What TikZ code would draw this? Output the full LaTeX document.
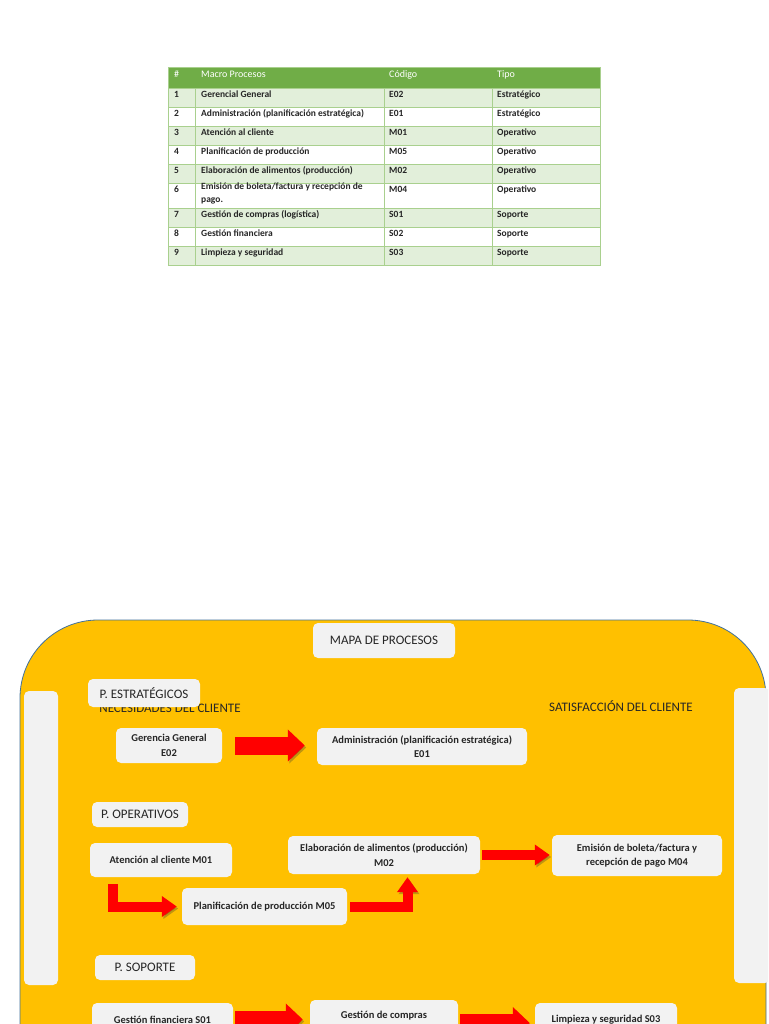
\documentclass[tikz,border=0pt]{standalone}
\usepackage{fontspec}
\setmainfont{Carlito}
\usetikzlibrary{positioning, arrows.meta}

\definecolor{hdrgreen}{HTML}{70AD47}
\definecolor{rowgreen}{HTML}{E2EFDA}
\definecolor{gridgreen}{HTML}{A9D08E}
\definecolor{mapyellow}{HTML}{FFC000}
\definecolor{mapedge}{HTML}{41719C}
\definecolor{boxgray}{HTML}{F2F2F2}
\definecolor{arrowred}{HTML}{FF0000}

\tikzset{
  cell/.style={anchor=north west, inner sep=0pt, align=left,
    execute at begin node=\strut,
    font=\fontsize{9.5}{13}\selectfont\bfseries, text=black!85},
  hcell/.style={cell, font=\fontsize{10}{12}\selectfont, text=white},
  proc/.style={fill=boxgray, rounded corners=5pt, inner sep=0pt, align=center,
    font=\fontsize{10.5}{14.5}\selectfont\bfseries, text=black!85},
  group/.style={proc, font=\fontsize{13}{15}\selectfont},
  sidebar/.style={fill=boxgray, rounded corners=5pt, inner sep=0pt},
  bigarrow/.style={draw=arrowred, line width=18pt, line join=miter,
    -{Triangle[length=17pt,width=31pt]},
    preaction={draw=black!80, opacity=.3, transform canvas={shift={(1.5pt,-2pt)}}}},
  thinarrow/.style={bigarrow, line width=10pt, -{Triangle[length=15pt,width=20pt]}},
}

\begin{document}
\begin{tikzpicture}[x=1pt,y=-1pt]
  \useasboundingbox (0,0) rectangle (768,1024);
  \clip (0,0) rectangle (768,1024);

  % table of macro processes
  \fill[hdrgreen] (168,67) rectangle (600,88);
  \foreach \top/\bot/\rowc in {88/107/rowgreen,107/126/white,126/145/rowgreen,
      145/164/white,164/183/rowgreen,183/208/white,208/227/rowgreen,
      227/246/white,246/265/rowgreen}
    \fill[\rowc] (168,\top) rectangle (600,\bot);
  \foreach \yy in {88,107,126,145,164,183,208,227,246}
    \draw[gridgreen,line width=0.6pt] (168,\yy) -- (600,\yy);
  \foreach \xx in {195,384,492}
    \draw[gridgreen,line width=0.6pt] (\xx,88) -- (\xx,265);
  \draw[gridgreen,line width=0.6pt] (168,67) rectangle (600,265);

  \node[hcell] (h-num) at (174,69) {\#};
  \node[hcell] (h-proc) at (201,69) {Macro Procesos};
  \node[hcell] (h-cod) at (389,69) {Código};
  \node[hcell] (h-tipo) at (497,69) {Tipo};
  \foreach \n/\top/\proc/\cod/\tip in {
      1/88/Gerencial General/E02/Estratégico,
      2/107/Administración (planificación estratégica)/E01/Estratégico,
      3/126/Atención al cliente/M01/Operativo,
      4/145/Planificación de producción/M05/Operativo,
      5/164/Elaboración de alimentos (producción)/M02/Operativo,
      6/183/{Emisión de boleta/factura y recepción de\\pago.}/M04/Operativo,
      7/208/Gestión de compras (logística)/S01/Soporte,
      8/227/Gestión financiera/S02/Soporte,
      9/246/Limpieza y seguridad/S03/Soporte}{
    \node[cell] (num-\n) at (174,\top) {\n};
    \node[cell] (proc-\n) at (201,\top) {\proc};
    \node[cell] (cod-\n) at (389,\top) {\cod};
    \node[cell] (tipo-\n) at (497,\top) {\tip};
  }

  % process map
  \draw[mapedge, fill=mapyellow, line width=0.8pt, rounded corners=78pt]
    (20,620) rectangle (766,1110);
  \node[sidebar, minimum width=34pt, minimum height=294pt] (inbar) at (41,838) {};
  \node[sidebar, minimum width=36pt, minimum height=295pt] (outbar) at (752,835.5) {};
  \node[group, minimum width=142pt, minimum height=35pt] (mapa) at (384,640.5)
    {MAPA DE PROCESOS};

  \node[font=\fontsize{13}{15}\selectfont, text=black!85] (nec) at (170,708)
    {NECESIDADES DEL CLIENTE};
  \node[font=\fontsize{13}{15}\selectfont, text=black!85] (sat) at (621,706)
    {SATISFACCIÓN DEL CLIENTE};

  \node[group, minimum width=112pt, minimum height=28pt] (pest) at (144,693)
    {P. ESTRATÉGICOS};
  \node[proc, minimum width=106pt, minimum height=35pt] (ger) at (169,745.5)
    {Gerencia General\\E02};
  \node[proc, minimum width=210pt, minimum height=37pt] (adm) at (422,746.5)
    {Administración (planificación estratégica)\\E01};

  \node[group, minimum width=96pt, minimum height=25pt] (pop) at (140,814.5)
    {P. OPERATIVOS};
  \node[proc, minimum width=142pt, minimum height=34pt] (atn) at (161,860)
    {Atención al cliente M01};
  \node[proc, minimum width=192pt, minimum height=38pt] (elab) at (384,855)
    {Elaboración de alimentos (producción)\\M02};
  \node[proc, minimum width=170pt, minimum height=41pt] (emis) at (637,855.5)
    {Emisión de boleta/factura y\\recepción de pago M04};
  \node[proc, minimum width=165pt, minimum height=37pt] (plan) at (264.5,906.5)
    {Planificación de producción M05};

  \node[group, minimum width=100pt, minimum height=25pt] (psop) at (145,967.5)
    {P. SOPORTE};
  \node[proc, minimum width=141pt, minimum height=33pt] (fin) at (162.5,1019.5)
    {Gestión financiera S01};
  \node[proc, minimum width=148pt, minimum height=46pt] (comp) at (384,1023)
    {Gestión de compras\\(logística)};
  \node[proc, minimum width=142pt, minimum height=34pt] (limp) at (606,1020)
    {Limpieza y seguridad S03};

  % flow arrows
  \draw[bigarrow, shorten <=13pt, shorten >=12pt] (ger.east) -- (ger.east -| adm.west);
  \draw[thinarrow, shorten <=2pt, shorten >=2pt] (elab.east) -- (elab.east -| emis.west);
  \draw[thinarrow] ([xshift=23.5pt,yshift=-7pt]atn.south west)
    |- ([xshift=-5pt]plan.west);
  \draw[thinarrow] ([xshift=3pt]plan.east) -| ([xshift=23.5pt,yshift=-3pt]elab.south);
  \draw[bigarrow, shorten <=2pt, shorten >=7pt] (fin.east) -- (fin.east -| comp.west);
  \draw[bigarrow, shorten <=2pt, shorten >=5pt] (comp.east) -- (comp.east -| limp.west);
\end{tikzpicture}
\end{document}
